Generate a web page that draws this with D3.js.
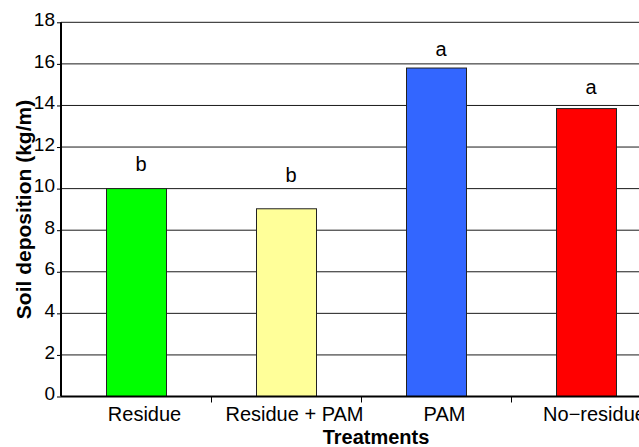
<!DOCTYPE html>
<html>
<head>
<meta charset="utf-8">
<script src="https://cdn.jsdelivr.net/npm/d3@7"></script>
<style>
html,body{margin:0;padding:0;background:#fff;overflow:hidden;}
svg{display:block;font-family:"Liberation Sans",Arial,Helvetica,sans-serif;}
</style>
</head>
<body>
<svg id="chart" width="639" height="447"></svg>
<script>
// ---- data ----
const categories = ["Residue", "Residue + PAM", "PAM", "No\u2212residue"];
const values = [10.0, 9.03, 15.8, 13.85];
const colors = ["#00ff00", "#ffff99", "#3366ff", "#ff0000"];
const letters = ["b", "b", "a", "a"];
const letterLevels = [10.85, 10.33, 16.38, 14.55]; // letter positions in data units
const yTicks = [0, 2, 4, 6, 8, 10, 12, 14, 16, 18];
const yTitle = "Soil deposition (kg/m)";
const xTitle = "Treatments";

// ---- layout ----
const W = 639, H = 447;
const svg = d3.select("#chart");
const x = d3.scaleBand().domain(categories).range([61.5, 661.5]).paddingInner(0).paddingOuter(0);
const y = d3.scaleLinear().domain([0, 18]).range([396.5, 22.3]);
const barW = x.bandwidth() * 0.4;

// gridlines
svg.append("g").selectAll("line").data(yTicks.filter(d => d > 0)).join("line")
  .attr("x1", 61).attr("x2", W)
  .attr("y1", d => y(d)).attr("y2", d => y(d))
  .attr("stroke", "#1a1a1a").attr("stroke-width", 1);

// bars
svg.append("g").selectAll("rect").data(values).join("rect")
  .attr("x", (d, i) => x(categories[i]) + (x.bandwidth() - barW) / 2)
  .attr("width", barW)
  .attr("y", d => y(d))
  .attr("height", d => y(0) - y(d))
  .attr("fill", (d, i) => colors[i])
  .attr("stroke", "#222").attr("stroke-width", 1);

// significance letters
svg.append("g").selectAll("text").data(letters).join("text")
  .attr("x", (d, i) => x(categories[i]) + x.bandwidth() / 2 + 4.5)
  .attr("y", (d, i) => y(letterLevels[i]))
  .attr("text-anchor", "middle")
  .attr("font-size", 20).attr("fill", "#000")
  .text(d => d);

// y axis
const yAxis = d3.axisLeft(y).tickValues(yTicks).tickSize(4).tickPadding(2).tickFormat(d3.format("d"));
const gy = svg.append("g").attr("transform", "translate(61,0)").call(yAxis);
gy.select(".domain").attr("stroke", "#000").attr("stroke-width", 2).attr("d", `M0,${y(18)}V${y(0)}`);
gy.selectAll(".tick line").attr("stroke", "#000");
gy.selectAll(".tick text").attr("font-size", 19).attr("fill", "#000")
  .attr("font-family", "Liberation Sans, Arial, sans-serif").attr("dy", "0.3em").attr("y", -2.5);

// x axis
const xAxis = d3.axisBottom(x).tickSize(0).tickPadding(0);
const gx = svg.append("g").attr("transform", `translate(0,${y(0)})`).call(xAxis);
gx.select(".domain").attr("stroke", "#000").attr("stroke-width", 2).attr("d", `M61,0H${W}`);
gx.selectAll(".tick text").attr("font-size", 20).attr("fill", "#000")
  .attr("font-family", "Liberation Sans, Arial, sans-serif")
  .attr("dy", 0).attr("y", 24.5).attr("x", 8);
// category separator ticks
svg.append("g").selectAll("line").data(categories.slice(1)).join("line")
  .attr("x1", d => x(d)).attr("x2", d => x(d))
  .attr("y1", y(0)).attr("y2", y(0) + 6)
  .attr("stroke", "#000").attr("stroke-width", 1);

// axis titles
svg.append("text").attr("x", 376).attr("y", 444).attr("text-anchor", "middle")
  .attr("font-size", 20).attr("font-weight", "bold").text(xTitle);
svg.append("text").attr("transform", "translate(30.5,209.5) rotate(-90)")
  .attr("text-anchor", "middle").attr("font-size", 21).attr("font-weight", "bold").text(yTitle);
</script>
</body>
</html>
